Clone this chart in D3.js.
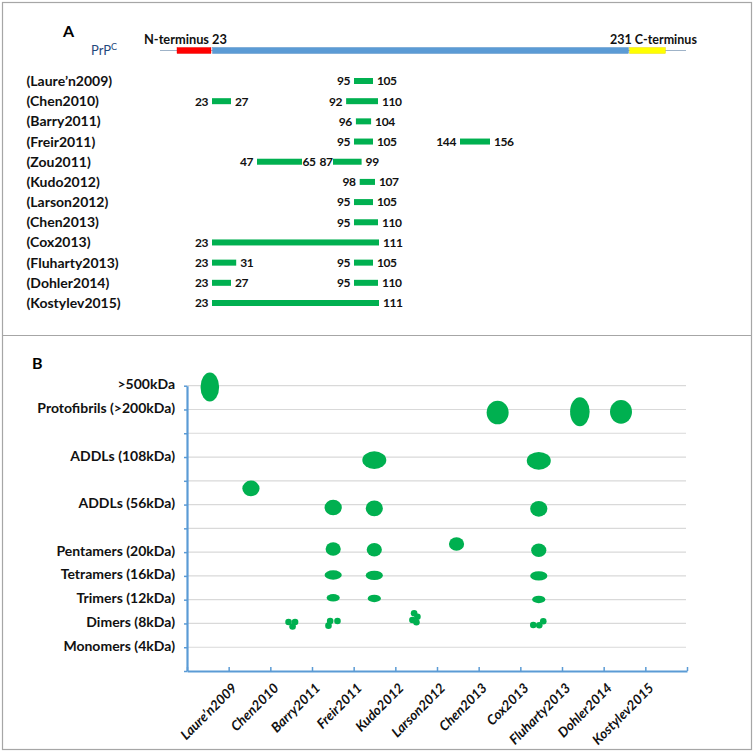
<!DOCTYPE html>
<html><head><meta charset="utf-8">
<script src="https://cdn.jsdelivr.net/npm/d3@7"></script>
<style>
body{margin:0;background:#fff}
text{font-family:Lato,'Open Sans','DejaVu Sans',sans-serif;}
</style>
</head><body>
<svg id="chart" width="754" height="755"></svg>
<script>
// ---------- Panel A data ----------
const studiesA = ["(Laure’n2009)","(Chen2010)","(Barry2011)","(Freir2011)","(Zou2011)","(Kudo2012)","(Larson2012)","(Chen2013)","(Cox2013)","(Fluharty2013)","(Dohler2014)","(Kostylev2015)"];
const fragStart = [[95],[23,92],[96],[95,144],[47,87],[98],[95],[95],[23],[23,95],[23,95],[23]];
const fragEnd   = [[105],[27,110],[104],[105,156],[65,99],[107],[105],[110],[111],[31,105],[27,110],[111]];
const prpStart = [1, 23, 231];
const prpEnd   = [23, 231, 253];
const prpNames = ["N-region", "core", "C-region"];
const residueMarks = [1, 23, 27, 47, 65, 87, 95, 105, 111, 144, 156, 231, 253];

// ---------- Panel B data ----------
const studiesB = ["Laure’n2009","Chen2010","Barry2011","Freir2011","Kudo2012","Larson2012","Chen2013","Cox2013","Fluharty2013","Dohler2014","Kostylev2015"];
const sizeLabels = [">500kDa","Protofibrils (>200kDa)","","ADDLs (108kDa)","","ADDLs (56kDa)","","Pentamers (20kDa)","Tetramers (16kDa)","Trimers (12kDa)","Dimers (8kDa)","Monomers (4kDa)"];
const olStudy = ["Laure’n2009","Chen2010","Barry2011",
  "Freir2011","Freir2011","Freir2011","Freir2011","Freir2011",
  "Kudo2012","Kudo2012","Kudo2012","Kudo2012","Kudo2012",
  "Larson2012","Chen2013","Cox2013",
  "Fluharty2013","Fluharty2013","Fluharty2013","Fluharty2013","Fluharty2013","Fluharty2013",
  "Dohler2014","Kostylev2015"];
const olLevel = [0.05, 4.32, 9.98,
  5.12, 6.87, 7.96, 8.92, 9.98,
  3.13, 5.16, 6.9, 7.98, 8.95,
  9.77, 6.66, 1.13,
  3.16, 5.18, 6.92, 8.0, 8.99, 10.0,
  1.1, 1.1];
const olKind = [">500kDa","ADDLs (56kDa)","Dimers",
  "ADDLs (56kDa)","Pentamers","Tetramers","Trimers","Dimers",
  "ADDLs (108kDa)","ADDLs (56kDa)","Pentamers","Tetramers","Trimers",
  "Dimers","Pentamers","Protofibrils",
  "ADDLs (108kDa)","ADDLs (56kDa)","Pentamers","Tetramers","Trimers","Dimers",
  "Protofibrils","Protofibrils"];

// ---------- drawing ----------
const svg = d3.select("#chart");
const GREEN = "#00b050", AXIS = "#5b9bd5", BORDER = "#a6a6a6", INK = "#111";

svg.append("rect").attr("x",0).attr("y",0).attr("width",754).attr("height",755).attr("fill","#fff");
svg.append("rect").attr("x",2.5).attr("y",2.5).attr("width",749).attr("height",747)
  .attr("fill","none").attr("stroke",BORDER).attr("stroke-width",1.2);
svg.append("line").attr("x1",2.5).attr("x2",751.5).attr("y1",335.5).attr("y2",335.5)
  .attr("stroke",BORDER).attr("stroke-width",1.2);

// ===== Panel A =====
const gA = svg.append("g");
gA.append("text").attr("x",63).attr("y",37).text("A")
  .attr("font-family","'Liberation Sans',Arial,sans-serif").attr("font-weight","bold").attr("font-size",16);

const res = d3.scaleLinear().domain(residueMarks)
  .range([177, 212, 231, 257, 302, 333, 354, 373, 379, 460, 490, 629, 666]);

// protein header
const hy = 50.5;
gA.append("line").attr("x1",res(1)-17).attr("x2",res(253)+20).attr("y1",hy).attr("y2",hy)
  .attr("stroke","#9fb3c8").attr("stroke-width",1);
const prpColor = {"N-region":"#ff0000","core":"#5b9bd5","C-region":"#ffff00"};
const prpStroke = {"N-region":"#e00000","core":"#4a86c0","C-region":"#e6d200"};
gA.selectAll("rect.prp").data(prpNames).join("rect").attr("class","prp")
  .attr("x",(d,i)=>res(prpStart[i])+(i?0.5:0))
  .attr("width",(d,i)=>res(prpEnd[i])-res(prpStart[i])-1)
  .attr("y",hy-3).attr("height",6)
  .attr("fill",d=>prpColor[d]).attr("stroke",d=>prpStroke[d]).attr("stroke-width",0.4);

gA.append("text").attr("x",91).attr("y",55).attr("fill","#1f497d").attr("font-size",13)
  .text("PrP").append("tspan").attr("dy",-5).attr("font-size",9).text("C");
gA.append("text").attr("x",144).attr("y",43.5).attr("text-anchor","start")
  .attr("font-weight","bold").attr("font-size",12.8).attr("fill",INK).text("N-terminus " + prpEnd[0]);
gA.append("text").attr("x",610).attr("y",43.5).attr("text-anchor","start")
  .attr("font-weight","bold").attr("font-size",12.5).attr("fill",INK).text(prpStart[2] + " C-terminus");

const rowY = d3.scalePoint().domain(studiesA).range([81, 303]);
gA.selectAll("text.study").data(studiesA).join("text").attr("class","study")
  .attr("x",26.5).attr("y",d=>rowY(d)).attr("dy","0.36em")
  .attr("font-weight","bold").attr("font-size",14).attr("fill",INK).text(d=>d);

const frags = [];
studiesA.forEach((s,i)=>fragStart[i].forEach((st,j)=>{
  const prevEnd = j>0 ? fragEnd[i][j-1] : null;
  const nextStart = j<fragStart[i].length-1 ? fragStart[i][j+1] : null;
  const tightL = prevEnd!==null && res(st)-res(prevEnd) < 40;
  const tightR = nextStart!==null && res(nextStart)-res(fragEnd[i][j]) < 40;
  frags.push({s, st, en: fragEnd[i][j], gl: tightL?0.5:4, gr: tightR?0.5:4});
}));
const fg = gA.selectAll("g.frag").data(frags).join("g").attr("class","frag");
fg.append("rect").attr("x",d=>res(d.st)).attr("width",d=>res(d.en)-res(d.st))
  .attr("y",d=>rowY(d.s)-3).attr("height",6).attr("fill",GREEN);
fg.append("text").attr("x",d=>res(d.st)-d.gl).attr("y",d=>rowY(d.s)).attr("dy","0.36em")
  .attr("text-anchor","end").attr("font-weight","bold").attr("font-size",12).attr("letter-spacing",-0.4)
  .attr("fill",INK).text(d=>d.st);
fg.append("text").attr("x",d=>res(d.en)+d.gr).attr("y",d=>rowY(d.s)).attr("dy","0.36em")
  .attr("text-anchor","start").attr("font-weight","bold").attr("font-size",12).attr("letter-spacing",-0.4)
  .attr("fill",INK).text(d=>d.en);

// ===== Panel B =====
const gB = svg.append("g");
gB.append("text").attr("x",32).attr("y",369).text("B")
  .attr("font-family","'Liberation Sans',Arial,sans-serif").attr("font-weight","bold").attr("font-size",16);

const left = 187, right = 687;
const y = d3.scaleLinear().domain([0,12]).range([385.7, 671]);
const xb = d3.scaleBand().domain([...studiesB, "_"]).range([left,right]);
const bw = xb.bandwidth();
const xm = d3.scalePoint().domain(studiesB).range([xb(studiesB[0]) + bw/2 + 2, xb(studiesB[10]) + bw/2 - 3.5]);

// gridlines
gB.selectAll("line.grid").data(d3.range(0,12)).join("line").attr("class","grid")
  .attr("x1",left).attr("x2",right-1).attr("y1",d=>y(d)).attr("y2",d=>y(d))
  .attr("stroke","#d9d9d9").attr("stroke-width",1.2);

// y axis
const yAx = gB.append("g").attr("transform",`translate(${left},0)`)
  .call(d3.axisLeft(y).tickValues(d3.range(0,13)).tickSizeInner(3).tickSizeOuter(0).tickFormat(""));
yAx.select(".domain").attr("stroke",AXIS).attr("stroke-width",2.2);
yAx.selectAll(".tick line").attr("stroke",AXIS).attr("stroke-width",1.5);

// x axis
const xl = d3.scaleLinear().domain([0,12]).range([left,right]);
const xAx = gB.append("g").attr("transform",`translate(0,${y(12)})`)
  .call(d3.axisBottom(xl).ticks(12).tickSizeInner(-4).tickSizeOuter(0).tickFormat(""));
xAx.select(".domain").attr("stroke",AXIS).attr("stroke-width",2.2);
xAx.selectAll(".tick line").attr("stroke",AXIS).attr("stroke-width",1.5);

// y labels
gB.selectAll("text.ylab").data(sizeLabels).join("text").attr("class","ylab")
  .attr("x",175).attr("y",(d,i)=>y(i)-1.5).attr("dy","0.36em").attr("text-anchor","end")
  .attr("font-weight","bold").attr("font-size",14).attr("fill",INK).text(d=>d);

// x labels
gB.selectAll("text.xlab").data(studiesB).join("text").attr("class","xlab")
  .attr("transform",d=>`translate(${xb(d)+bw/2+30},${y(12)+18}) rotate(-45)`)
  .attr("text-anchor","end").attr("font-weight","bold").attr("font-style","italic")
  .attr("font-size",13.5).attr("fill",INK).text(d=>d);

// oligomer marks
const shapeByKind = {">500kDa":[9.3,14.5],"Protofibrils":[11,11.8],"ADDLs (108kDa)":[12,8.8],
  "ADDLs (56kDa)":[8.6,7.8],"Pentamers":[7.6,6.7],"Tetramers":[8.6,4.7],"Trimers":[6.6,3.7]};
const shapeOverride = {"Dohler2014|Protofibrils":[9.8,14.5]};
const dimerDots = {
  "Barry2011":[[-3.5,-1],[3,-1],[0.5,3.5]],
  "Freir2011":[[-4.7,2.7],[-3,-2],[4.3,-2]],
  "Larson2012":[[-1.3,-4.7],[2,-1.3],[-3,2],[1,4.3]],
  "Fluharty2013":[[-5.5,1.5],[0.5,1.8],[4.5,-2.2]]
};
const marks = olStudy.map((s,i)=>({s, lvl: olLevel[i], kind: olKind[i]}));
marks.forEach(m=>{
  const cx = xm(m.s), cy = y(m.lvl);
  if (m.kind === "Dimers") {
    gB.append("g").selectAll("circle").data(dimerDots[m.s]).join("circle")
      .attr("cx",d=>cx+d[0]).attr("cy",d=>cy+d[1]).attr("r",3.3).attr("fill",GREEN);
  } else {
    const sh = shapeOverride[m.s+"|"+m.kind] || shapeByKind[m.kind];
    gB.append("ellipse").attr("cx",cx).attr("cy",cy).attr("rx",sh[0]).attr("ry",sh[1]).attr("fill",GREEN);
  }
});
</script>
</body></html>
